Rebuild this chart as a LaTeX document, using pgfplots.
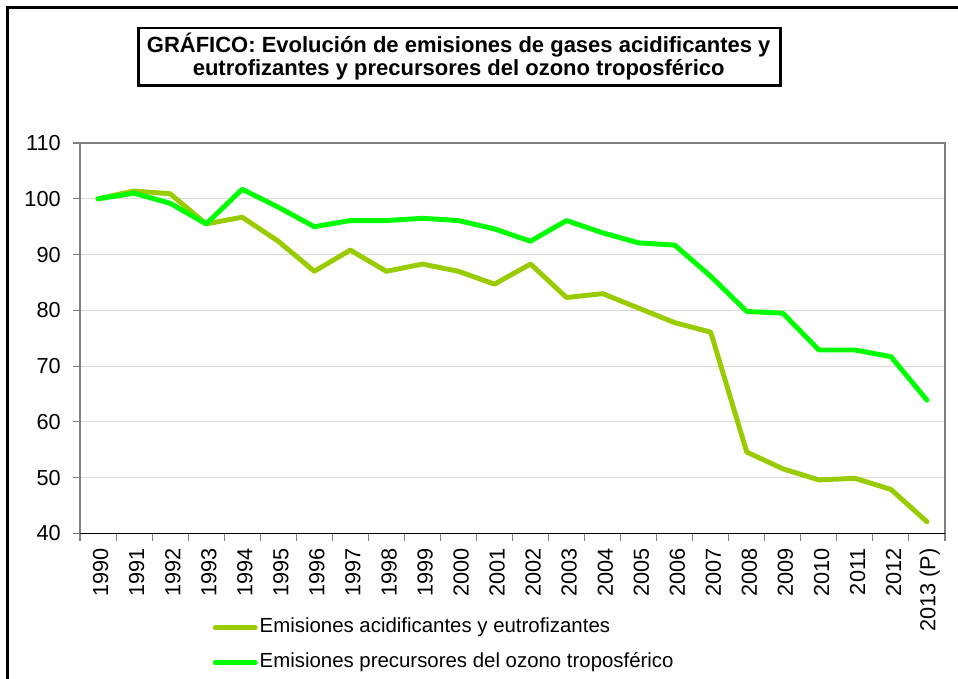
\documentclass[border=0pt]{standalone}
\usepackage{fontspec}
\setmainfont{Liberation Sans}
\usepackage{pgfplots}
\pgfplotsset{compat=1.18}
\definecolor{acidcol}{RGB}{153,204,0}
\definecolor{ozocol}{RGB}{0,255,0}
\definecolor{gridcol}{RGB}{217,217,217}
\definecolor{axcol}{RGB}{128,128,128}

\begin{document}
\begin{tikzpicture}
\useasboundingbox (0pt,0pt) rectangle (718.5pt,509.25pt);
% outer frame (only top and left edges are visible)
\draw[line width=2.25pt] (5.6pt,-2pt) -- (5.6pt,503.9pt) -- (720pt,503.9pt);
% title box
\draw[line width=2pt] (104pt,445.3pt) rectangle (585.2pt,488.25pt);
\node[anchor=base, inner sep=0pt, font=\bfseries\fontsize{16.5}{19}\selectfont] at (344pt,470pt)
  {GRÁFICO: Evolución de emisiones de gases acidificantes y};
\node[anchor=base, inner sep=0pt, font=\bfseries\fontsize{16.5}{19}\selectfont] at (344pt,452.25pt)
  {eutrofizantes y precursores del ozono troposférico};

\begin{axis}[
    at={(60pt,109.125pt)}, anchor=south west,
    scale only axis, width=648.75pt, height=292.875pt,
    xmin=-0.5, xmax=23.5, ymin=40, ymax=110,
    ytick={40,50,...,110},
    ymajorgrids, major grid style={gridcol, line width=0.75pt},
    axis line style={axcol, line width=0.8pt},
    tick style={axcol, line width=0.8pt},
    tick align=outside, major tick length=5.25pt,
    xtick pos=bottom, ytick pos=left,
    xtick={-0.5,0.5,...,23.5}, xticklabels={},
    extra x ticks={0,...,23},
    extra x tick labels={1990,1991,1992,1993,1994,1995,1996,1997,1998,1999,2000,2001,2002,2003,2004,2005,2006,2007,2008,2009,2010,2011,2012,2013 (P)},
    extra x tick style={major tick length=0pt, grid=none},
    x tick label style={yshift=-10.9pt, xshift=2pt, rotate=90, anchor=east, inner sep=0pt},
    y tick label style={anchor=east, inner sep=0pt, xshift=-9pt},
    tick label style={font=\fontsize{16.3}{19}\selectfont},
    /pgf/number format/assume math mode=true,
    legend style={at={(0.1486,-0.2095)}, anchor=north west, draw=none, fill=none,
        font=\fontsize{15.3}{18}\selectfont, row sep=11.75pt, column sep=1.5pt,
        nodes={inner sep=0pt, text height=11pt, text depth=3.5pt}},
    legend cell align=left,
    legend image code/.code={\draw[#1] (0pt,0pt) -- (30pt,0pt);},
]
\addplot[acidcol, line width=3.7pt, line join=round, line cap=round] coordinates {
(0,100) (1,101.4) (2,100.9) (3,95.5) (4,96.7) (5,92.4) (6,87.0) (7,90.8)
(8,87.0) (9,88.3) (10,87.0) (11,84.7) (12,88.3) (13,82.3) (14,83.0) (15,80.4)
(16,77.8) (17,76.1) (18,54.6) (19,51.6) (20,49.6) (21,49.9) (22,47.9) (23,42.1)};
\addlegendentry{Emisiones acidificantes y eutrofizantes}
\addplot[ozocol, line width=3.7pt, line join=round, line cap=round] coordinates {
(0,100) (1,101.0) (2,99.2) (3,95.5) (4,101.7) (5,98.5) (6,95.0) (7,96.1)
(8,96.1) (9,96.5) (10,96.1) (11,94.6) (12,92.4) (13,96.1) (14,93.9) (15,92.1)
(16,91.7) (17,86.1) (18,79.8) (19,79.5) (20,72.9) (21,72.9) (22,71.7) (23,63.9)};
\addlegendentry{Emisiones precursores del ozono troposférico}
\draw[black, line width=0.8pt] (rel axis cs:0,0) -- (rel axis cs:1,0);
\end{axis}
\end{tikzpicture}
\end{document}
